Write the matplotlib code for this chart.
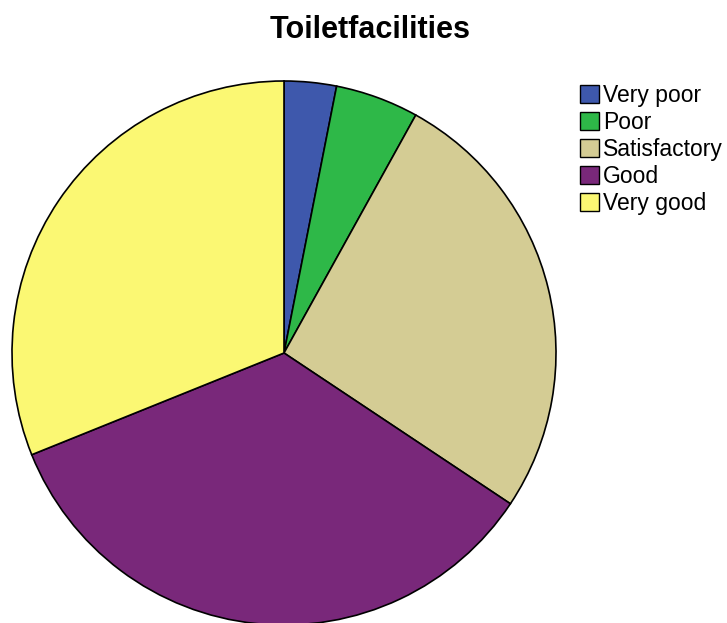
import matplotlib.pyplot as plt

plt.rcParams['font.family'] = ['Liberation Sans', 'DejaVu Sans']

categories = ["Very poor", "Poor", "Satisfactory", "Good", "Very good"]
percent = [3.1, 4.95, 26.3, 34.55, 31.1]
colors = ["#3e58ac", "#2eb848", "#d4cc94", "#79287a", "#fbf873"]

W, H = 727, 623
fig = plt.figure(figsize=(W / 100, H / 100), dpi=100)

# pie centre at (284, 353) px, radius 272 px
cx, cy, r = 284, 353, 272
ax = fig.add_axes([(cx - r) / W, (H - cy - r) / H, 2 * r / W, 2 * r / H])
wedges, _ = ax.pie(percent, colors=colors, startangle=90, counterclock=False,
                   radius=1, wedgeprops=dict(edgecolor="black", linewidth=1.2))
ax.set_xlim(-1, 1)
ax.set_ylim(-1, 1)
ax.set_aspect("equal")
ax.axis("off")

fig.text(370 / W, 1 - 30 / H, "Toiletfacilities", ha="center", va="center",
         fontsize=22, fontweight="bold")

leg = fig.legend(wedges, categories, loc="upper left",
                 bbox_to_anchor=(580 / W, 1 - 84 / H), frameon=False,
                 fontsize=16.5, handlelength=0.85, handleheight=0.85,
                 handletextpad=0.15, labelspacing=0.17, borderpad=0,
                 borderaxespad=0)
for h in leg.legend_handles:
    h.set_linewidth(1.0)

fig.savefig("out.png", dpi=100)
